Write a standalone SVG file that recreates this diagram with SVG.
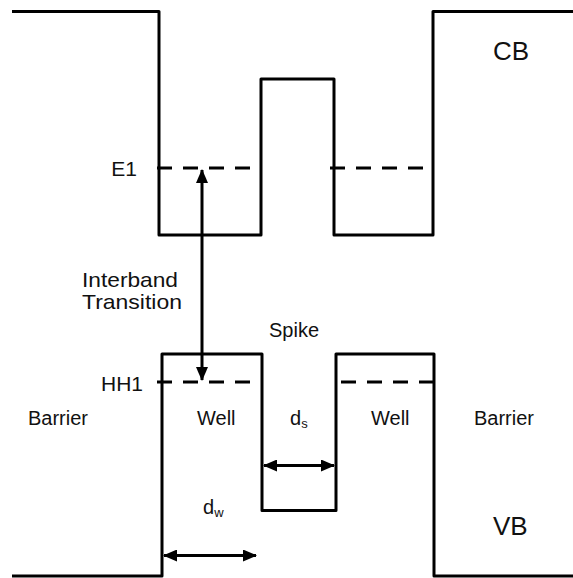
<svg xmlns="http://www.w3.org/2000/svg" width="573" height="578" viewBox="0 0 573 578">
<style>
.band{fill:none;stroke:#000;stroke-width:3;stroke-linejoin:round}
.lvl{fill:none;stroke:#000;stroke-width:3;stroke-dasharray:15 11}
.arr{fill:none;stroke:#000;stroke-width:3}
text{font-family:"Liberation Sans",Arial,sans-serif;fill:#111}
.s20{font-size:20px}
.s21{font-size:21px}
.s25{font-size:26px}
.sub{font-size:13px}
</style>
<defs>
<marker id="ah" viewBox="0 0 14 12" refX="13" refY="6" markerWidth="14" markerHeight="12" markerUnits="userSpaceOnUse" orient="auto-start-reverse">
<path d="M0,0 L14,6 L0,12 Z" fill="#000"/>
</marker>
</defs>
<rect width="573" height="578" fill="#fff"/>
<g id="conduction-band">
<polyline class="band" points="12,11.5 159,11.5 159,235 261,235 261,79 334,79 334,235 433,235 433,11.5 573,11.5"/>
</g>
<g id="valence-band">
<polyline class="band" points="12,576 162,576 162,354 262,354 262,510.5 336,510.5 336,354 434,354 434,576 573,576"/>
</g>
<g id="levels">
<line class="lvl" x1="157" y1="168" x2="253" y2="168"/>
<line class="lvl" x1="330" y1="168" x2="428" y2="168"/>
<line class="lvl" x1="157" y1="382" x2="253" y2="382"/>
<line class="lvl" x1="341" y1="382" x2="437" y2="382" stroke-dashoffset="0"/>
</g>
<g id="connectors">
<line class="arr" x1="202" y1="170" x2="202" y2="380" marker-start="url(#ah)" marker-end="url(#ah)"/>
<line class="arr" x1="264" y1="465.5" x2="334" y2="465.5" marker-start="url(#ah)" marker-end="url(#ah)"/>
<line class="arr" x1="164" y1="555.5" x2="256" y2="555.5" marker-start="url(#ah)" marker-end="url(#ah)"/>
</g>
<g id="labels">
<text class="s25" x="493" y="60">CB</text>
<text class="s25" x="493" y="535">VB</text>
<text class="s21" x="137" y="176" text-anchor="end">E1</text>
<text class="s21" x="143" y="390.5" text-anchor="end">HH1</text>
<text class="s21" x="82" y="287" textLength="96" lengthAdjust="spacingAndGlyphs">Interband</text>
<text class="s21" x="82" y="308.5" textLength="100" lengthAdjust="spacingAndGlyphs">Transition</text>
<text class="s20" x="269" y="337">Spike</text>
<text class="s20" x="28" y="425">Barrier</text>
<text class="s20" x="197" y="425">Well</text>
<text class="s20" x="371" y="425">Well</text>
<text class="s20" x="474" y="425">Barrier</text>
<text class="s20" x="290" y="425">d<tspan class="sub" dy="3">s</tspan></text>
<text class="s20" x="203" y="514">d<tspan class="sub" dy="3">w</tspan></text>
</g>
</svg>
